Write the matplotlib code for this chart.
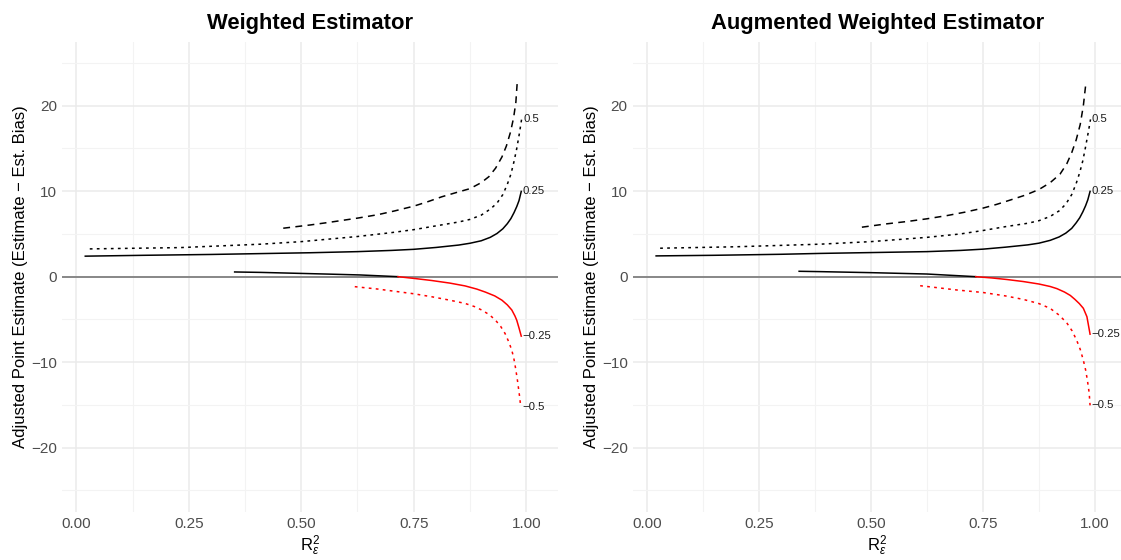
import matplotlib
matplotlib.use('Agg')
import matplotlib.pyplot as plt
import numpy as np

plt.rcParams['font.family'] = ['Liberation Sans', 'DejaVu Sans']
plt.rcParams['mathtext.fontset'] = 'custom'
plt.rcParams['mathtext.rm'] = 'Liberation Sans'
plt.rcParams['mathtext.it'] = 'Liberation Sans:italic'

titles = ['Weighted Estimator', 'Augmented Weighted Estimator']

# --- Weighted Estimator (left panel) ---
w_pos25_x = [0.02, 0.15, 0.3, 0.41, 0.52, 0.625, 0.7, 0.75, 0.8, 0.85, 0.875, 0.9, 0.92,
             0.935, 0.948, 0.958, 0.966, 0.973, 0.979, 0.984, 0.989]
w_pos25_y = [2.40, 2.50, 2.60, 2.70, 2.80, 2.93, 3.07, 3.2, 3.42, 3.7, 3.91, 4.2, 4.6,
             5.05, 5.6, 6.2, 6.8, 7.5, 8.2, 8.9, 9.98]
w_pos50_x = [0.03, 0.23, 0.41, 0.5, 0.625, 0.7, 0.75, 0.8, 0.85, 0.875, 0.9, 0.92, 0.935,
             0.948, 0.958, 0.966, 0.973, 0.979, 0.985, 0.99]
w_pos50_y = [3.25, 3.4, 3.8, 4.1, 4.7, 5.15, 5.5, 5.95, 6.4, 6.7, 7.2, 7.9, 8.6,
             9.6, 10.8, 12.0, 13.5, 15.0, 16.8, 18.5]
w_dash_x = [0.46, 0.52, 0.56, 0.625, 0.67, 0.708, 0.75, 0.78, 0.8125, 0.845, 0.875, 0.9,
            0.917, 0.932, 0.946, 0.956, 0.965, 0.972, 0.977, 0.98]
w_dash_y = [5.67, 6.05, 6.34, 6.85, 7.25, 7.7, 8.25, 8.75, 9.35, 9.85, 10.3, 11.0,
            11.7, 12.7, 14.0, 15.3, 16.9, 18.6, 20.4, 22.7]
w_neg25_x = [0.352, 0.41, 0.56, 0.631, 0.715, 0.75, 0.79, 0.83, 0.864, 0.89, 0.909, 0.93,
             0.946, 0.958, 0.968, 0.975, 0.979, 0.984, 0.989]
w_neg25_y = [0.55, 0.5, 0.3, 0.2, 0.0, -0.2, -0.45, -0.75, -1.08, -1.45, -1.8, -2.25,
             -2.75, -3.3, -3.9, -4.6, -5.1, -6.0, -6.96]
w_neg50_x = [0.619, 0.67, 0.715, 0.75, 0.79, 0.83, 0.864, 0.885, 0.901, 0.918, 0.931, 0.943,
             0.953, 0.961, 0.968, 0.973, 0.977, 0.981, 0.985, 0.988]
w_neg50_y = [-1.17, -1.45, -1.76, -2.0, -2.35, -2.75, -3.13, -3.5, -3.9, -4.45, -5.05, -5.8,
             -6.65, -7.6, -8.6, -9.7, -10.9, -12.3, -13.9, -15.26]

# --- Augmented Weighted Estimator (right panel) ---
a_pos25_x = [0.021, 0.15, 0.3, 0.386, 0.5, 0.625, 0.7, 0.75, 0.8, 0.85, 0.875, 0.9, 0.92,
             0.935, 0.948, 0.958, 0.966, 0.973, 0.979, 0.984, 0.989]
a_pos25_y = [2.43, 2.5, 2.62, 2.72, 2.82, 2.93, 3.07, 3.22, 3.45, 3.72, 3.92, 4.25, 4.65,
             5.1, 5.65, 6.3, 6.9, 7.6, 8.3, 9.0, 9.98]
a_pos50_x = [0.03, 0.2, 0.386, 0.5, 0.625, 0.7, 0.75, 0.8, 0.85, 0.875, 0.9, 0.92, 0.935,
             0.948, 0.958, 0.966, 0.973, 0.979, 0.985, 0.99]
a_pos50_y = [3.33, 3.5, 3.8, 4.1, 4.6, 5.0, 5.4, 5.85, 6.25, 6.55, 7.05, 7.7, 8.5,
             9.6, 10.9, 12.2, 13.6, 15.2, 16.9, 18.4]
a_dash_x = [0.48, 0.535, 0.58, 0.625, 0.67, 0.71, 0.75, 0.78, 0.81, 0.845, 0.875, 0.9,
            0.922, 0.937, 0.948, 0.958, 0.967, 0.974, 0.98]
a_dash_y = [5.79, 6.18, 6.45, 6.77, 7.15, 7.55, 8.02, 8.45, 8.95, 9.55, 10.2, 11.0,
            12.0, 13.2, 14.5, 16.0, 17.8, 20.0, 22.8]
a_neg25_x = [0.34, 0.386, 0.5, 0.625, 0.734, 0.77, 0.803, 0.84, 0.875, 0.9, 0.915, 0.932,
             0.945, 0.955, 0.965, 0.974, 0.982, 0.989]
a_neg25_y = [0.63, 0.59, 0.47, 0.31, 0.0, -0.15, -0.33, -0.57, -0.86, -1.15, -1.4, -1.8,
             -2.2, -2.65, -3.15, -3.7, -4.69, -6.73]
a_neg50_x = [0.61, 0.65, 0.692, 0.75, 0.8, 0.84, 0.875, 0.9, 0.92, 0.937, 0.949, 0.959,
             0.967, 0.974, 0.979, 0.983, 0.987, 0.989]
a_neg50_y = [-1.06, -1.3, -1.56, -1.85, -2.25, -2.66, -3.15, -3.71, -4.5, -5.4, -6.35, -7.43,
             -8.5, -9.78, -10.9, -12.1, -13.6, -15.06]

curve_labels = ['0.5', '0.25', '\u22120.25', '\u22120.5']

panels = [
    (w_pos25_x, w_pos25_y, w_pos50_x, w_pos50_y, w_dash_x, w_dash_y,
     w_neg25_x, w_neg25_y, w_neg50_x, w_neg50_y),
    (a_pos25_x, a_pos25_y, a_pos50_x, a_pos50_y, a_dash_x, a_dash_y,
     a_neg25_x, a_neg25_y, a_neg50_x, a_neg50_y),
]

fig = plt.figure(figsize=(11.21, 5.6), dpi=100)
axes = [fig.add_axes([0.0556, 0.0863, 0.4419, 0.8393]),
        fig.add_axes([0.5649, 0.0863, 0.4351, 0.8393])]
xlims = [(-0.031, 1.070), (-0.030, 1.058)]

dashed = (0, (4.5, 3.5))
dotted = (0, (1.8, 2.8))
lw = 1.1

for ax, title, data, xl in zip(axes, titles, panels, xlims):
    p25x, p25y, p50x, p50y, dx, dy, n25x, n25y, n50x, n50y = data

    ax.set_facecolor('white')
    for s in ax.spines.values():
        s.set_visible(False)
    ax.set_xlim(*xl)
    ax.set_ylim(-27.5, 27.5)
    ax.set_xticks([0, 0.25, 0.5, 0.75, 1.0])
    ax.set_xticklabels(['0.00', '0.25', '0.50', '0.75', '1.00'])
    ax.set_xticks([0.125, 0.375, 0.625, 0.875], minor=True)
    ax.set_yticks([-20, -10, 0, 10, 20])
    ax.set_yticks([-25, -15, -5, 5, 15, 25], minor=True)
    ax.grid(which='major', color='#EBEBEB', lw=1.1)
    ax.grid(which='minor', color='#F3F3F3', lw=0.8)
    ax.set_axisbelow(True)
    ax.tick_params(which='both', length=0, labelsize=11, labelcolor='#4D4D4D', pad=4)

    ax.axhline(0, color='#808080', lw=1.3, zorder=1)

    ax.plot(p25x, p25y, color='black', lw=lw, zorder=3)
    ax.plot(p50x, p50y, color='black', lw=lw, ls=dotted, zorder=3)
    ax.plot(dx, dy, color='black', lw=lw, ls=dashed, zorder=3)

    # -0.25 curve: black while above zero, red below
    n25x = np.array(n25x)
    n25y = np.array(n25y)
    ax.plot(n25x[n25y >= 0], n25y[n25y >= 0], color='black', lw=lw, zorder=3)
    ax.plot(n25x[n25y <= 0], n25y[n25y <= 0], color='red', lw=lw, zorder=3)
    ax.plot(n50x, n50y, color='red', lw=lw, ls=dotted, zorder=3)

    ends = [(p50x[-1], p50y[-1]), (p25x[-1], p25y[-1]),
            (n25x[-1], n25y[-1]), (n50x[-1], n50y[-1])]
    for lab, (ex, ey) in zip(curve_labels, ends):
        ax.text(ex + 0.003, ey, lab, fontsize=8.2, color='#1A1A1A',
                ha='left', va='center')

    ax.set_title(title, fontsize=15.8, fontweight='bold', pad=9)
    ax.set_xlabel(r'$\mathregular{R}^{2}_{\varepsilon}$', fontsize=12, labelpad=2)
    ax.set_ylabel('Adjusted Point Estimate (Estimate \u2212 Est. Bias)', fontsize=12, labelpad=2)

fig.savefig('out.png', dpi=100, facecolor='white')
